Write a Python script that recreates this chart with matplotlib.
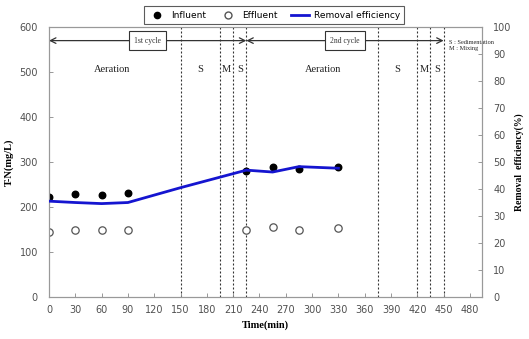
import matplotlib
matplotlib.use("Agg")
import matplotlib.pyplot as plt
from matplotlib.lines import Line2D

# Data
time_pts = [0, 30, 60, 90, 225, 255, 285, 330]
influent = [222, 230, 227, 232, 280, 290, 285, 290]
effluent = [145, 150, 148, 150, 148, 155, 148, 153]
eff_time = [0, 30, 60, 90, 150, 225, 255, 285, 330]
removal = [35.5, 35.0, 34.6, 35.0, 40.5, 47.0, 46.3, 48.3, 47.7]
phase_lines = [150, 195, 210, 225, 375, 420, 435, 450]
x_ticks = list(range(0, 481, 30))
y_ticks = list(range(0, 601, 100))
y2_ticks = list(range(0, 101, 10))
phase_labels = [(72, "Aeration"), (172.5, "S"), (202.5, "M"), (218, "S"),
                (312, "Aeration"), (397.5, "S"), (427.5, "M"), (442.5, "S")]
cycles = [(0, 225, "1st cycle"), (225, 450, "2nd cycle")]

serif = "Liberation Serif"
tick_color = "#505050"

fig = plt.figure(figsize=(5.29, 3.39), dpi=100)
ax = fig.add_axes([0.0926, 0.124, 0.819, 0.796])
ax2 = ax.twinx()

ax.set_xlim(0, 494)
ax.set_ylim(0, 600)
ax2.set_ylim(0, 100)

for x in phase_lines:
    ax.axvline(x, color="#333333", linestyle=(0, (1.8, 1.8)), linewidth=0.8, zorder=1)

ax.scatter(time_pts, influent, s=22, color="black", zorder=4, label="Influent")
ax.scatter(time_pts, effluent, s=28, facecolor="white", edgecolor="#555555",
           linewidth=0.9, zorder=4, label="Effluent")
ax2.plot(eff_time, removal, color="#1515d0", linewidth=2.0, zorder=3)

# cycle arrows
for x0, x1, lab in cycles:
    ax.annotate("", xy=(x0, 570), xytext=(x1, 570),
                arrowprops=dict(arrowstyle="<->", color="#333333", lw=0.9,
                                shrinkA=0, shrinkB=0))
    ax.text((x0 + x1) / 2, 570, lab, ha="center", va="center", fontsize=5.5,
            family=serif, color="#333333",
            bbox=dict(boxstyle="square,pad=0.7", fc="white", ec="#333333", lw=0.8))

for x, lab in phase_labels:
    ax.text(x, 505, lab, ha="center", va="center", fontsize=7.5, family=serif,
            color="#222222")

ax.text(456, 572, "S : Sedimentation\nM : Mixing", ha="left", va="top",
        fontsize=4.5, family=serif, color="#222222", linespacing=1.3)

ax.set_xticks(x_ticks)
ax.set_yticks(y_ticks)
ax2.set_yticks(y2_ticks)
for a in (ax, ax2):
    a.tick_params(direction="in", length=3, width=0.6, colors="#888888",
                  labelcolor=tick_color, labelsize=7)
    for s in a.spines.values():
        s.set_color("#999999")
        s.set_linewidth(0.8)
ax.tick_params(axis="x", pad=6)
ax.tick_params(axis="y", pad=8)
ax2.tick_params(axis="y", pad=8)

ax.set_xlabel("Time(min)", fontsize=7.5, family=serif, fontweight="bold", labelpad=4)
ax.set_ylabel("T-N(mg/L)", fontsize=7.5, family=serif, fontweight="bold", labelpad=4)
ax2.set_ylabel("Removal  efficiency(%)", fontsize=7, family=serif, fontweight="bold",
               labelpad=2)

handles = [
    Line2D([], [], marker="o", color="black", linestyle="none", markersize=4.5),
    Line2D([], [], marker="o", markerfacecolor="white", markeredgecolor="#555555",
           linestyle="none", markersize=5),
    Line2D([], [], color="#1515d0", linewidth=2),
]
leg = fig.legend(handles, ["Influent", "Effluent", "Removal efficiency"],
                 loc="center", bbox_to_anchor=(0.518, 0.955), ncol=3, fontsize=6.5,
                 frameon=True, fancybox=False, edgecolor="#333333",
                 handlelength=2.0, columnspacing=1.5, handletextpad=0.5,
                 borderpad=0.5)
leg.get_frame().set_linewidth(0.8)

fig.savefig("out.png", dpi=100)
